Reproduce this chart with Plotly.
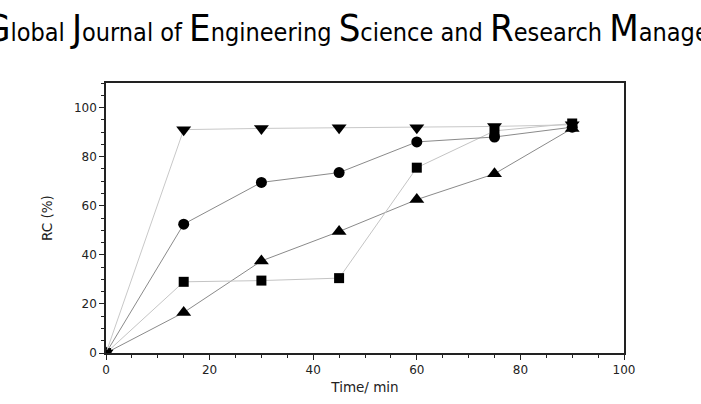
import plotly.graph_objects as go

time = [0, 15, 30, 45, 60, 75, 90]
s_tri_down = [0, 91, 91.5, 91.8, 91.8, 92.3, 93]
s_circle = [0, 52.5, 69.5, 73.5, 86, 88, 92]
s_square = [0, 29, 29.5, 30.5, 75.5, 90.5, 93.5]
s_tri_up = [0, 16.5, 37.5, 49.5, 62.5, 73, 91.5]

series = [
    (s_tri_up, "triangle-up", "#8a8a8a", 13),
    (s_square, "square", "#c4c4c4", 10),
    (s_circle, "circle", "#8a8a8a", 11),
    (s_tri_down, "triangle-down", "#c8c8c8", 13),
]

fig = go.Figure()
for ys, sym, lc, ms in series:
    fig.add_trace(go.Scatter(
        x=time, y=ys, mode="lines+markers",
        line=dict(color=lc, width=1),
        marker=dict(symbol=sym, size=ms, color="black"),
        showlegend=False, cliponaxis=True,
    ))

axis_common = dict(
    showline=True, linecolor="#222", linewidth=1.5, mirror=True,
    ticks="outside", ticklen=5, tickcolor="#222", tickwidth=1,
    showgrid=False, zeroline=False,
    tickfont=dict(family="DejaVu Sans", size=12, color="#222"),
    minor=dict(ticks="outside", ticklen=3, tickcolor="#222"),
)

fig.update_xaxes(range=[0, 100], tickvals=[0, 20, 40, 60, 80, 100],
                 title=dict(text="Time/ min", font=dict(family="DejaVu Sans", size=13.5, color="#222"), standoff=6),
                 **axis_common)
fig.update_yaxes(range=[0, 110], tickvals=[0, 20, 40, 60, 80, 100],
                 title=dict(text="RC (%)", font=dict(family="DejaVu Sans", size=13.5, color="#222"), standoff=18),
                 **axis_common)

B = 'font-size:38px'
title = (f"<span style='{B}'>G</span>lobal <span style='{B}'>J</span>ournal of "
         f"<span style='{B}'>E</span>ngineering <span style='{B}'>S</span>cience and "
         f"<span style='{B}'>R</span>esearch <span style='{B}'>M</span>anagement")
fig.add_annotation(text=title, xref="paper", yref="paper", x=(-18 - 106) / 518, y=1 + (83 - 52) / 270,
                   xanchor="left", yanchor="bottom", showarrow=False,
                   font=dict(family="DejaVu Sans Condensed, DejaVu Sans", size=25, color="#000"))

fig.update_layout(
    width=701, height=404,
    margin=dict(l=106, r=77, t=83, b=51),
    paper_bgcolor="white", plot_bgcolor="white",
)

fig.write_html("out.html")
